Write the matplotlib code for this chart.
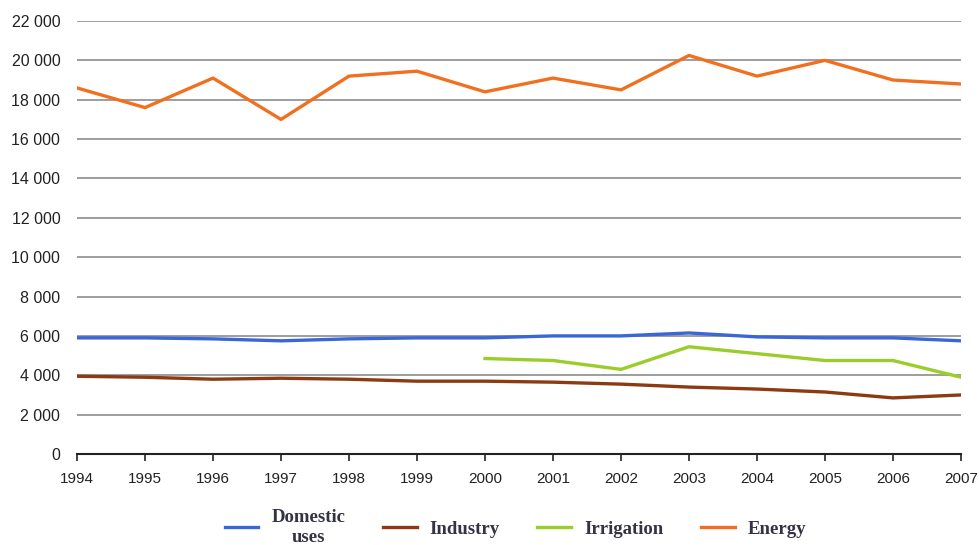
import numpy as np
import matplotlib
matplotlib.use('Agg')
import matplotlib.pyplot as plt
from matplotlib.ticker import FuncFormatter

# ── data ─────────────────────────────────────────────────────────────────────
years = list(range(1994, 2008))
domestic = [5900, 5900, 5850, 5750, 5850, 5900, 5900, 6000, 6000, 6150,
            5950, 5900, 5900, 5750]
industry = [3950, 3900, 3800, 3850, 3800, 3700, 3700, 3650, 3550, 3400,
            3300, 3150, 2850, 3000]
irr_years = list(range(2000, 2008))
irrigation = [4850, 4750, 4300, 5450, 5100, 4750, 4750, 3900]
energy = [18600, 17600, 19100, 17000, 19200, 19450, 18400, 19100, 18500,
          20250, 19200, 20000, 19000, 18800]

labels = ['Domestic\nuses', 'Industry', 'Irrigation', 'Energy']
colors = ['#3a66d6', '#8b3a12', '#9acd2a', '#f07020']

plt.rcParams['font.family'] = ['Liberation Sans', 'DejaVu Sans']

fig = plt.figure(figsize=(9.8, 5.45), dpi=100)
ax = fig.add_axes([77 / 980, 1 - 454 / 545, (961 - 77) / 980, (454 - 21) / 545])

lines = []
lines += ax.plot(years, domestic, color=colors[0], lw=2.4)
lines += ax.plot(years, industry, color=colors[1], lw=2.4)
lines += ax.plot(irr_years, irrigation, color=colors[2], lw=2.4)
lines += ax.plot(years, energy, color=colors[3], lw=2.4)

ax.set_xlim(1994, 2007)
ax.set_ylim(0, 22000)
ax.set_xticks(years)
ax.set_yticks(np.arange(0, 22001, 2000))
ax.yaxis.set_major_formatter(FuncFormatter(lambda v, p: '0' if v == 0 else f"{int(v)//1000} 000"))

ax.grid(axis='y', color='#8c8c8c', lw=1.2)
ax.set_axisbelow(True)
for s in ['left', 'right', 'top']:
    ax.spines[s].set_visible(False)
ax.spines['bottom'].set_color('#222222')
ax.spines['bottom'].set_linewidth(1.5)
ax.tick_params(axis='y', length=0, pad=12, labelsize=11.5, colors='#222222')
ax.tick_params(axis='x', direction='out', length=5, width=1.2, pad=8,
               labelsize=11, colors='#222222')

# legend below the axes; first label wraps onto a second line
leg = fig.legend(lines, labels, loc='center', bbox_to_anchor=(0.526, 0.032),
                 ncol=4, frameon=False, handlelength=1.8, handletextpad=0.7,
                 columnspacing=2.0, borderpad=0.1,
                 prop={'family': 'Liberation Serif', 'weight': 'bold', 'size': 13.5})
for t in leg.get_texts():
    t.set_color('#333344')
    t.set_multialignment('center')

fig.savefig('out.png', dpi=100)
